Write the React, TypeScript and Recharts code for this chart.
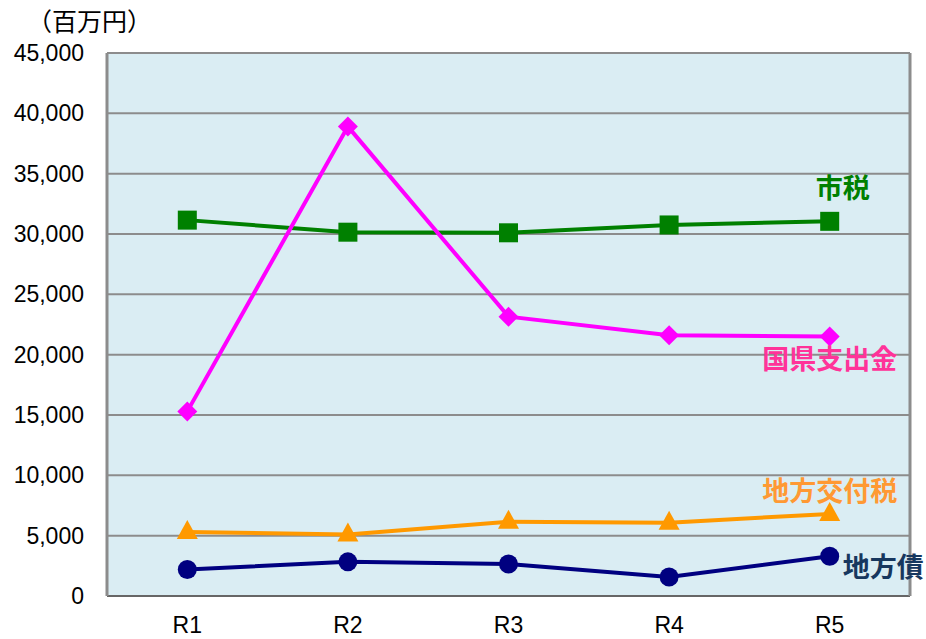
import { LineChart, Line, XAxis, YAxis, CartesianGrid } from "recharts";

const years = ["R1", "R2", "R3", "R4", "R5"];
const shizei = [31150, 30150, 30100, 30750, 31050];
const kokuken = [15300, 38900, 23150, 21600, 21500];
const koufuzei = [5300, 5100, 6150, 6080, 6800];
const chihousai = [2200, 2830, 2650, 1580, 3300];
const yTicks = [0, 5000, 10000, 15000, 20000, 25000, 30000, 35000, 40000, 45000];

const rows = years.map((y, i) => ({
  year: y,
  shizei: shizei[i],
  kokuken: kokuken[i],
  koufuzei: koufuzei[i],
  chihousai: chihousai[i],
}));

const jpFont = "'Noto Sans CJK JP', sans-serif";
const numFont = "'Liberation Sans', Arial, sans-serif";

const Square = (p: any) => (
  <rect x={p.cx - 9.5} y={p.cy - 9.5} width={19} height={19} fill="#008000" />
);
const Diamond = (p: any) => (
  <polygon
    points={`${p.cx},${p.cy - 10} ${p.cx + 10},${p.cy} ${p.cx},${p.cy + 10} ${p.cx - 10},${p.cy}`}
    fill="#FF00FF"
  />
);
const Triangle = (p: any) => (
  <polygon
    points={`${p.cx},${p.cy - 12} ${p.cx + 10.5},${p.cy + 7} ${p.cx - 10.5},${p.cy + 7}`}
    fill="#FF9900"
  />
);
const Circle = (p: any) => <circle cx={p.cx} cy={p.cy} r={9.5} fill="#000080" />;

// series name written next to the last point
const endLabel = (text: string, color: string, dx: number, dy: number, anchor: string) =>
  (p: any) =>
    p.index === years.length - 1 ? (
      <text
        x={p.x + dx}
        y={p.y + dy}
        fill={color}
        fontFamily={jpFont}
        fontWeight="bold"
        fontSize={27}
        textAnchor={anchor}
        dominantBaseline="central"
      >
        {text}
      </text>
    ) : null;

export default function App() {
  return (
    <div style={{ position: "absolute", left: 0, top: 0, width: 926, height: 639 }}>
      <LineChart width={926} height={639} data={rows} margin={{ top: 53, right: 0, bottom: 0, left: 0 }}>
        <text x={27} y={20} fontFamily={jpFont} fontSize={25} dominantBaseline="central">
          （百万円）
        </text>
        <CartesianGrid vertical={false} fill="#DAEDF3" stroke="#8C8C8C" strokeWidth={2} />
        <XAxis
          dataKey="year"
          scale="band"
          height={43}
          axisLine={{ stroke: "#666", strokeWidth: 2 }}
          tickLine={false}
          tickMargin={15}
          tick={{ fill: "#000", fontSize: 23, fontFamily: numFont }}
        />
        <YAxis
          width={107}
          domain={[0, 45000]}
          ticks={yTicks}
          interval={0}
          axisLine={{ stroke: "#8C8C8C", strokeWidth: 3 }}
          tickLine={false}
          tickMargin={17}
          tickFormatter={(v: number) => v.toLocaleString("en-US")}
          tick={{ fill: "#000", fontSize: 23, fontFamily: numFont }}
        />
        <YAxis
          yAxisId="r"
          orientation="right"
          width={16}
          tick={false}
          axisLine={{ stroke: "#8C8C8C", strokeWidth: 3 }}
          tickLine={false}
        />
        <Line
          dataKey="shizei"
          stroke="#008000"
          strokeWidth={4}
          dot={<Square />}
          isAnimationActive={false}
          label={endLabel("市税", "#008000", 13, -35, "middle")}
        />
        <Line
          dataKey="kokuken"
          stroke="#FF00FF"
          strokeWidth={4}
          dot={<Diamond />}
          isAnimationActive={false}
          label={endLabel("国県支出金", "#FF3399", 0, 21, "middle")}
        />
        <Line
          dataKey="koufuzei"
          stroke="#FF9900"
          strokeWidth={4}
          dot={<Triangle />}
          isAnimationActive={false}
          label={endLabel("地方交付税", "#FF9933", 0, -24, "middle")}
        />
        <Line
          dataKey="chihousai"
          stroke="#000080"
          strokeWidth={4}
          dot={<Circle />}
          isAnimationActive={false}
          label={endLabel("地方債", "#17375E", 13, 9, "start")}
        />
      </LineChart>
    </div>
  );
}
